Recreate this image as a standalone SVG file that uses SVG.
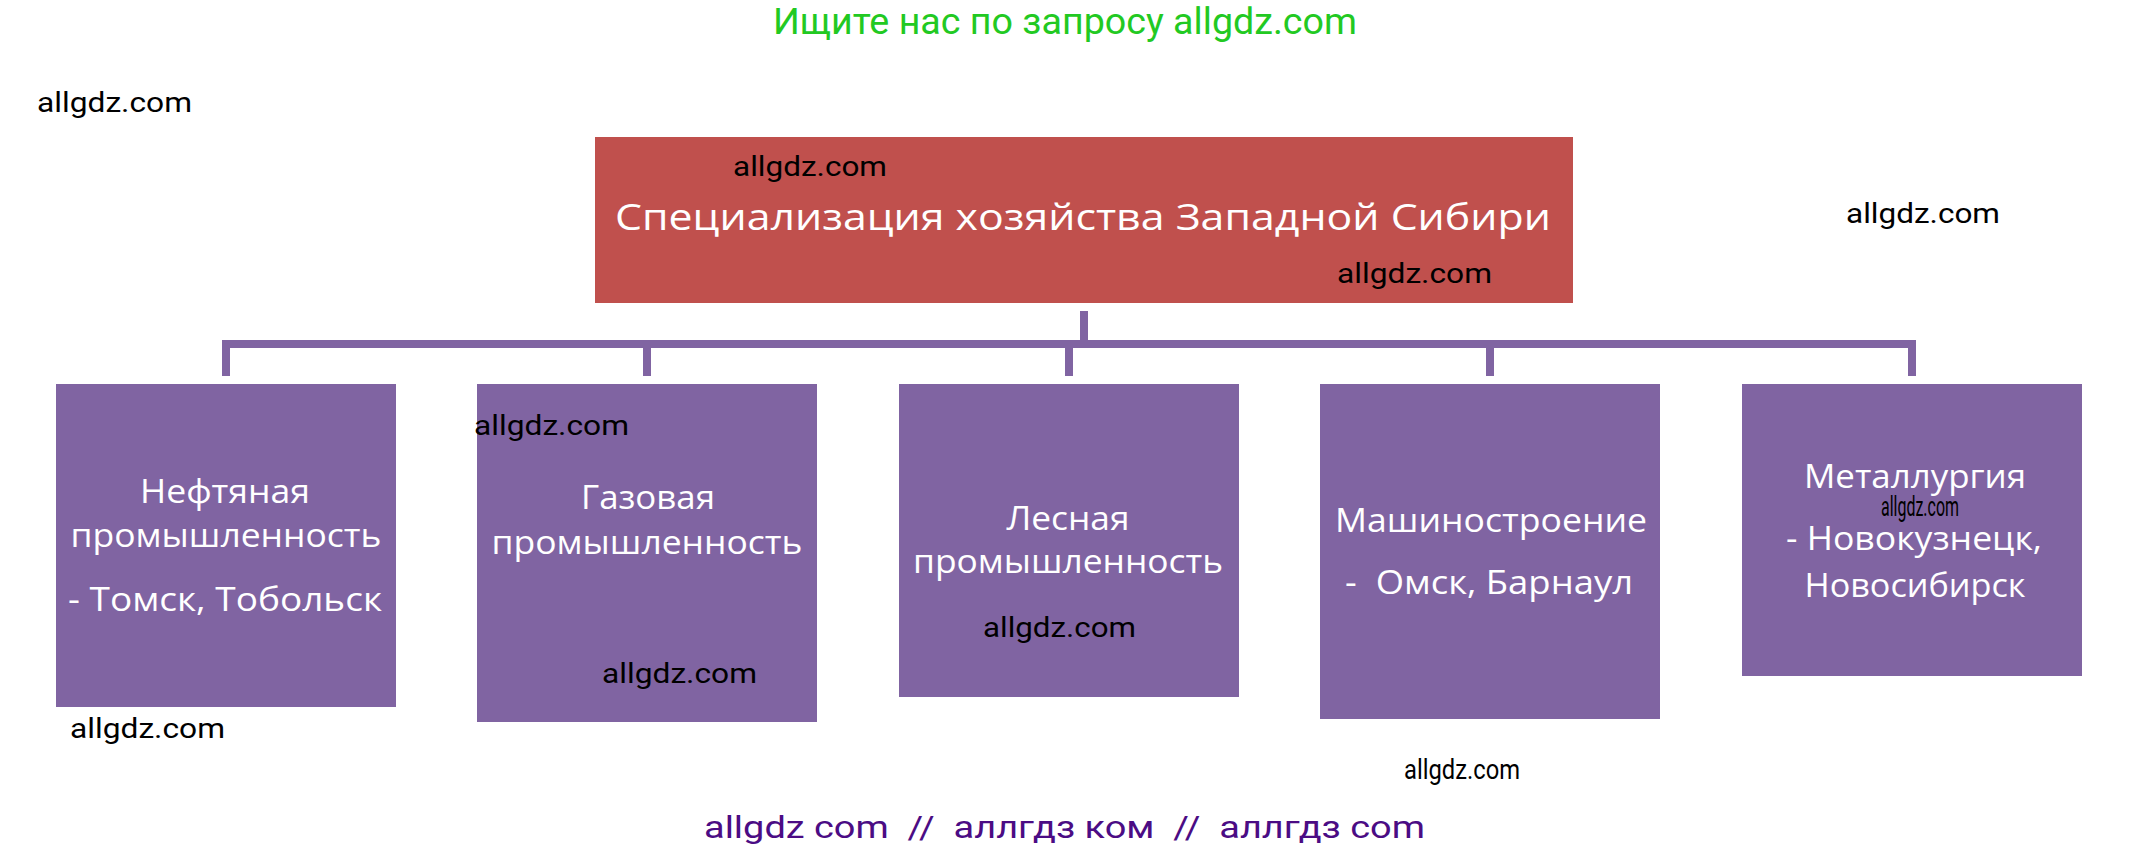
<svg xmlns="http://www.w3.org/2000/svg" width="2130" height="853" viewBox="0 0 2130 853">
<style>
.wm{font-family:Roboto,"Liberation Sans",sans-serif;font-size:27px;fill:#000}
.nt{font-family:"Open Sans","Noto Sans","Liberation Sans",sans-serif;font-size:32px;fill:#fff;text-anchor:middle}
.tt{font-family:"Open Sans","Noto Sans","Liberation Sans",sans-serif;font-size:37px;fill:#fff;text-anchor:middle}
.box{fill:#8064A2}
.con{stroke:#8064A2;stroke-width:8;fill:none}
</style>
<rect width="2130" height="853" fill="#fff"/>
<text x="773" y="34" font-family="Roboto,'Liberation Sans',sans-serif" font-size="36" fill="#22C922" textLength="584" lengthAdjust="spacingAndGlyphs">Ищите нас по запросу allgdz.com</text>
<g id="connectors">
<path class="con" d="M1084 311V344M222 344H1916M226 344V376M647 344V376M1069 344V376M1490 344V376M1912 344V376"/>
</g>
<g id="root">
<rect x="595" y="137" width="978" height="166" fill="#C0504D"/>
<text class="tt" x="1083" y="230" textLength="936" lengthAdjust="spacingAndGlyphs">Специализация хозяйства Западной Сибири</text>
</g>
<g id="n1">
<rect class="box" x="56" y="384" width="340" height="323"/>
<text class="nt" x="225" y="503" textLength="170" lengthAdjust="spacingAndGlyphs">Нефтяная</text>
<text class="nt" x="226" y="547" textLength="311" lengthAdjust="spacingAndGlyphs">промышленность</text>
<text class="nt" x="225" y="611" textLength="314" lengthAdjust="spacingAndGlyphs">- Томск, Тобольск</text>
</g>
<g id="n2">
<rect class="box" x="477" y="384" width="340" height="338"/>
<text class="nt" x="648" y="509" textLength="134" lengthAdjust="spacingAndGlyphs">Газовая</text>
<text class="nt" x="647" y="554" textLength="311" lengthAdjust="spacingAndGlyphs">промышленность</text>
</g>
<g id="n3">
<rect class="box" x="899" y="384" width="340" height="313"/>
<text class="nt" x="1068" y="530" textLength="123" lengthAdjust="spacingAndGlyphs">Лесная</text>
<text class="nt" x="1068" y="573" textLength="310" lengthAdjust="spacingAndGlyphs">промышленность</text>
</g>
<g id="n4">
<rect class="box" x="1320" y="384" width="340" height="335"/>
<text class="nt" x="1491" y="532" textLength="312" lengthAdjust="spacingAndGlyphs">Машиностроение</text>
<text class="nt" x="1489" y="594" textLength="288" lengthAdjust="spacingAndGlyphs" style="white-space:pre">-  Омск, Барнаул</text>
</g>
<g id="n5">
<rect class="box" x="1742" y="384" width="340" height="292"/>
<text class="nt" x="1915" y="488" textLength="222" lengthAdjust="spacingAndGlyphs">Металлургия</text>
<text class="nt" x="1914" y="550" textLength="256" lengthAdjust="spacingAndGlyphs">- Новокузнецк,</text>
<text class="nt" x="1915" y="597" textLength="221" lengthAdjust="spacingAndGlyphs">Новосибирск</text>
</g>
<g id="watermarks">
<text class="wm" x="37" y="112" textLength="155" lengthAdjust="spacingAndGlyphs">allgdz.com</text>
<text class="wm" x="733" y="176" textLength="154" lengthAdjust="spacingAndGlyphs">allgdz.com</text>
<text class="wm" x="1337" y="283" textLength="155" lengthAdjust="spacingAndGlyphs">allgdz.com</text>
<text class="wm" x="1846" y="223" textLength="154" lengthAdjust="spacingAndGlyphs">allgdz.com</text>
<text class="wm" x="474" y="435" textLength="155" lengthAdjust="spacingAndGlyphs">allgdz.com</text>
<text class="wm" x="602" y="683" textLength="155" lengthAdjust="spacingAndGlyphs">allgdz.com</text>
<text class="wm" x="983" y="637" textLength="153" lengthAdjust="spacingAndGlyphs">allgdz.com</text>
<text class="wm" x="70" y="738" textLength="155" lengthAdjust="spacingAndGlyphs">allgdz.com</text>
<text class="wm" x="1404" y="779" font-size="21" textLength="116" lengthAdjust="spacingAndGlyphs">allgdz.com</text>
<text class="wm" x="1881" y="516" font-size="15" textLength="78" lengthAdjust="spacingAndGlyphs">allgdz.com</text>
</g>
<text x="704" y="838" font-family="Roboto,'Liberation Sans',sans-serif" font-size="32" fill="#4B0C84" textLength="721" lengthAdjust="spacingAndGlyphs" style="white-space:pre">allgdz com  //  аллгдз ком  //  аллгдз com</text>
</svg>
